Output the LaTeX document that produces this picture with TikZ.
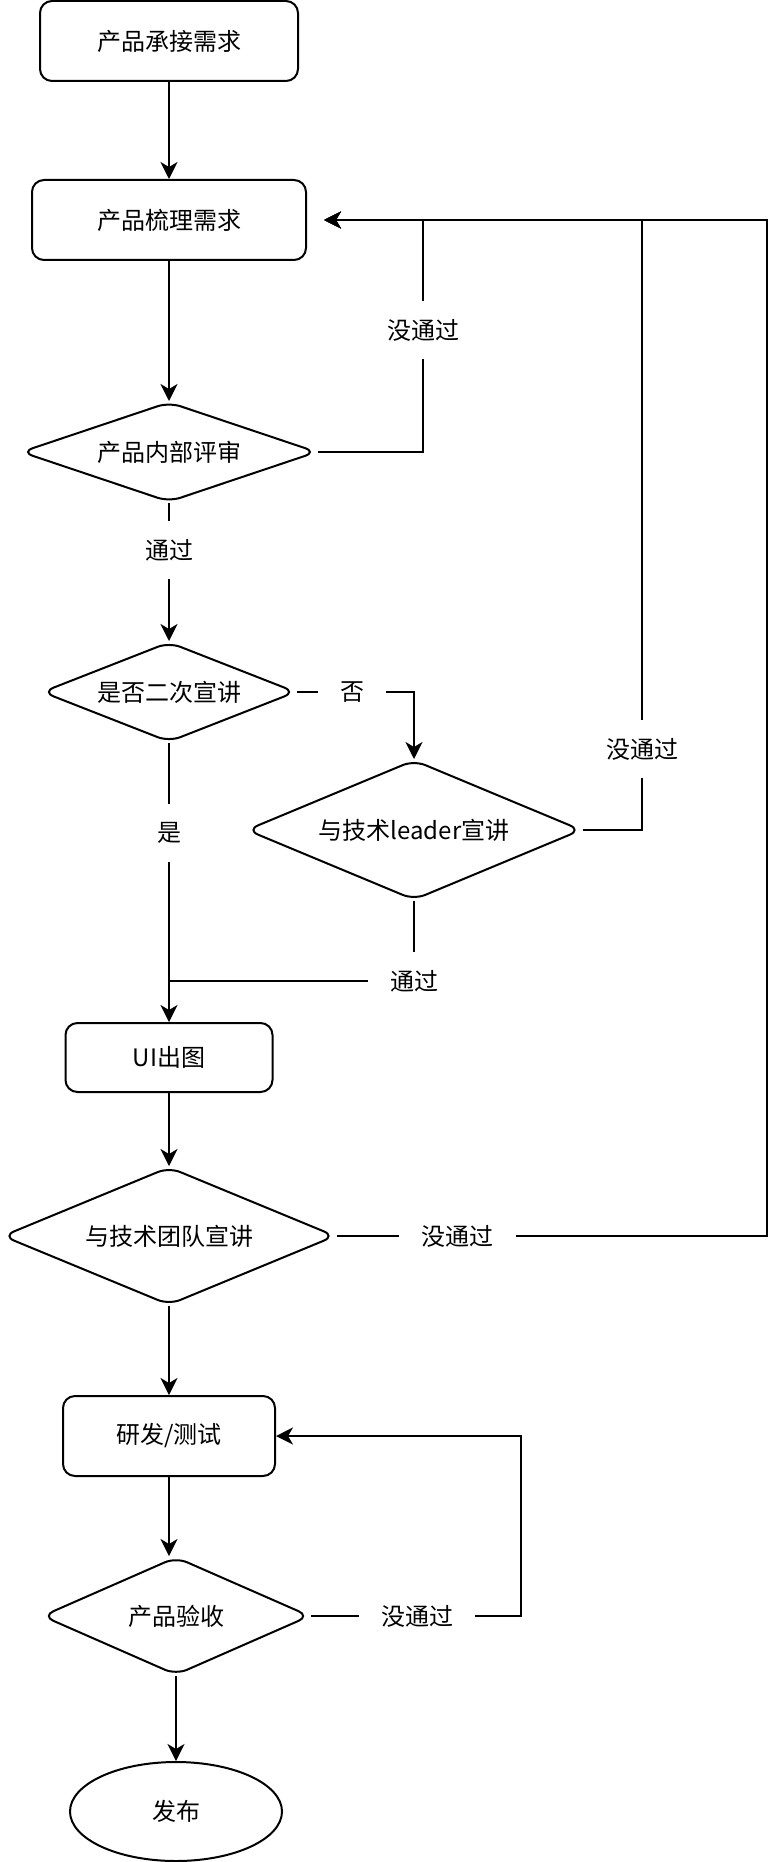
\documentclass[tikz,border=0pt]{standalone}
\usepackage{fontspec}
\setmainfont{Noto Sans CJK SC}
\usetikzlibrary{
  arrows.meta,
  positioning,
  shapes.geometric,
}
\tikzset{
  >={Stealth[length=17pt,width=17pt,inset=5pt]},
  stepbox/.style={draw,rectangle,rounded corners=12pt,line width=2pt},
  check/.style={draw,diamond,rounded corners=12pt,line width=2pt,inner sep=0pt},
  lbl/.style={fill=white,inner xsep=22pt,inner ysep=18pt},
  flow/.style={line width=2pt},
}
\begin{document}
\begin{tikzpicture}[x=1pt,y=-1pt,font=\fontsize{24pt}{29pt}\selectfont]
        \useasboundingbox (0,0) rectangle (780,1862);

        \node[stepbox,minimum width=258,minimum height=80]    (b1) at (169,41)        {产品承接需求};
        \node[stepbox,minimum width=274,minimum height=80]    (b2) [below=97pt of b1]     {产品梳理需求};
        \node[check,aspect=2.96,minimum width=296,minimum height=100]    (d1) [below=140pt of b2]     {产品内部评审};
        \node[check,aspect=2.54,minimum width=254,minimum height=100]    (d2) [below=138pt of d1]     {是否二次宣讲};
        \node[check,aspect=2.39,minimum width=335,minimum height=140]    (d3) at (414,830)     {与技术leader宣讲};
        \node[stepbox,minimum width=207,minimum height=69]    (ui) [below=279pt of d2]     {UI出图};
        \node[check,aspect=2.41,minimum width=333,minimum height=138]    (d4) [below=73pt of ui]     {与技术团队宣讲};
        \node[stepbox,minimum width=212,minimum height=80]    (rd) [below=89pt of d4]     {研发/测试};
        \node[check,aspect=2.27,minimum width=268,minimum height=118,xshift=7pt]    (d6) [below=79pt of rd]     {产品验收};
        \node[draw,ellipse,line width=2pt,minimum width=212,minimum height=99]    (fb) [below=85pt of d6]     {发布};

        \node[lbl] (ok1) at ([yshift=-47pt]d1.south) {通过};
        \node[lbl] (no) at ([xshift=55pt]d2.east) {否};
        \node[lbl] (yes) at ([yshift=-90pt]d2.south) {是};
        \node[lbl] (ok2) at ([yshift=-80pt]d3.south) {通过};
        \node[lbl] (nt1) at (423,330) {没通过};
        \node[lbl] (nt2) at (642,749) {没通过};
        \node[lbl] (nt3) at ([xshift=121pt]d4.east) {没通过};
        \node[lbl] (nt4) at ([xshift=106pt]d6.east) {没通过};

        \coordinate (back) at ([xshift=17pt]b2.east);
        \coordinate (far) at ([xshift=460pt]b2.east);
        \coordinate (loop) at ([xshift=245pt]rd.east);

        \draw[flow,->] (b1) -- (b2);
        \draw[flow,->] (b2) -- (d1);
        \draw[flow] (d1) -- (ok1);
        \draw[flow,->] (ok1) -- (d2);
        \draw[flow] (d2) -- (yes);
        \draw[flow,->] (yes) -- (ui);
        \draw[flow] (d2) -- (no);
        \draw[flow,->] (no) -| (d3);
        \draw[flow] (d3) -- (ok2);
        \draw[flow] (ok2) -- (ok2 -| ui);
        \draw[flow] (d1) -| (nt1);
        \draw[flow,->] (nt1) |- (back);
        \draw[flow] (d3) -| (nt2);
        \draw[flow,->] (nt2) |- (back);
        \draw[flow,->] (ui) -- (d4);
        \draw[flow] (d4) -- (nt3);
        \draw[flow,->] (nt3) -| (far) -- (back);
        \draw[flow,->] (d4) -- (rd);
        \draw[flow,->] (rd) -- (rd |- d6.north);
        \draw[flow] (d6) -- (nt4);
        \draw[flow,->] (nt4) -| (loop) -- (rd);
        \draw[flow,->] (d6) -- (fb);

\end{tikzpicture}
\end{document}
